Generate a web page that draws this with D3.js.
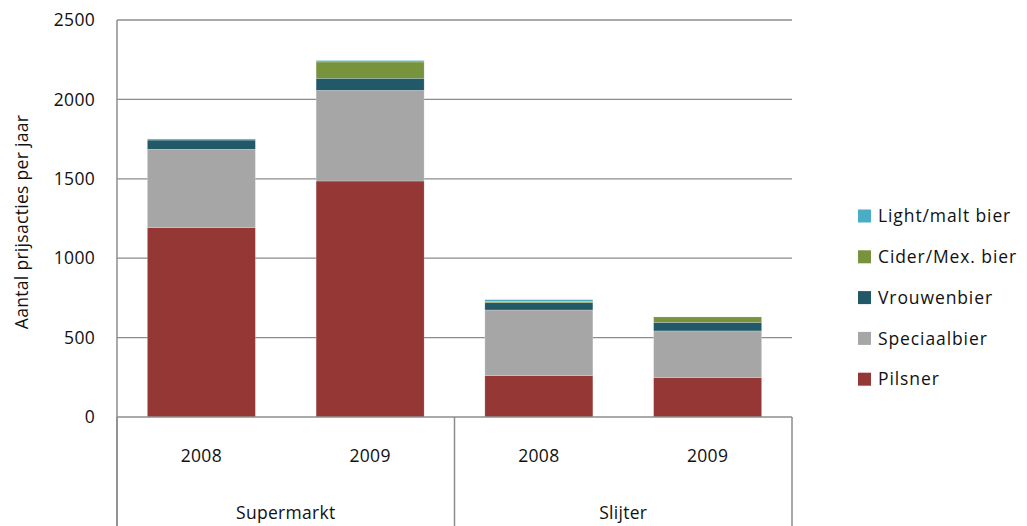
<!DOCTYPE html>
<html>
<head>
<meta charset="utf-8">
<script src="https://cdn.jsdelivr.net/npm/d3@7"></script>
<style>
  body { margin: 0; background: #fff; }
  svg { display: block; font-family: "Open Sans", "Noto Sans", sans-serif; }
  text { letter-spacing: 0.3px; fill: #111; }
  .legend text { letter-spacing: 0.9px; }
</style>
</head>
<body>
<svg id="chart" width="1027" height="526"></svg>
<script>
// Price transactions per year, by outlet and year
const groups = ["Supermarkt", "Slijter"];
const years = ["2008", "2009"];
const seriesNames = ["Pilsner", "Speciaalbier", "Vrouwenbier", "Cider/Mex. bier", "Light/malt bier"];
const seriesColors = ["#953735", "#a6a6a6", "#215968", "#77933c", "#4bacc6"];

// one value per bar: Supermarkt 2008, Supermarkt 2009, Slijter 2008, Slijter 2009
const pilsner      = [1192, 1486, 260, 248];
const speciaalbier = [494, 571, 414, 294];
const vrouwenbier  = [58, 76, 46, 54];
const ciderMex     = [0, 103, 8, 34];
const lightMalt    = [7, 9, 11, 0];

const yTicks = [0, 500, 1000, 1500, 2000, 2500];
const yTitle = "Aantal prijsacties per jaar";

const rows = [];
groups.forEach((g, gi) => years.forEach((yr, yi) => {
  const i = gi * years.length + yi;
  rows.push({
    key: g + "|" + yr, group: g, year: yr,
    "Pilsner": pilsner[i],
    "Speciaalbier": speciaalbier[i],
    "Vrouwenbier": vrouwenbier[i],
    "Cider/Mex. bier": ciderMex[i],
    "Light/malt bier": lightMalt[i]
  });
}));

const FS = 17.5;
const svg = d3.select("#chart");
const plot = { left: 117, right: 792, top: 20, bottom: 417, base: 526 };

const x = d3.scaleBand().domain(rows.map(d => d.key)).range([plot.left, plot.right])
  .paddingInner(0.36).paddingOuter(0.18);
const y = d3.scaleLinear().domain([0, 2500]).range([plot.bottom, plot.top]);
const color = d3.scaleOrdinal().domain(seriesNames).range(seriesColors);

// horizontal gridlines
svg.append("g").selectAll("line").data(yTicks.filter(t => t > 0)).join("line")
  .attr("x1", plot.left).attr("x2", plot.right)
  .attr("y1", d => y(d)).attr("y2", d => y(d))
  .attr("stroke", "#8c8c8c").attr("stroke-width", 1.3);

// y-axis
const yAxis = d3.axisLeft(y).tickValues(yTicks).tickFormat(d3.format("d"))
  .tickSize(0).tickPadding(22);
const ya = svg.append("g").attr("transform", `translate(${plot.left},0)`).call(yAxis);
ya.attr("font-size", null).attr("font-family", null);
ya.select(".domain").remove();
ya.selectAll("text").attr("font-size", FS).attr("fill", "#111");
svg.append("line").attr("x1", plot.left).attr("x2", plot.left)
  .attr("y1", plot.top).attr("y2", plot.base)
  .attr("stroke", "#8c8c8c").attr("stroke-width", 1.5);

// stacked bars
const stacked = d3.stack().keys(seriesNames)(rows);
svg.append("g").selectAll("g").data(stacked).join("g")
  .attr("fill", d => color(d.key))
  .selectAll("rect").data(d => d).join("rect")
  .attr("x", d => x(d.data.key))
  .attr("width", x.bandwidth())
  .attr("y", d => y(d[1]))
  .attr("height", d => y(d[0]) - y(d[1]))
  .attr("stroke", d => (d[1] - d[0]) > 0 ? "rgba(255,255,255,0.35)" : "none")
  .attr("stroke-width", 0.6);

// x-axis baseline and group separators
svg.append("line").attr("x1", plot.left).attr("x2", plot.right)
  .attr("y1", plot.bottom).attr("y2", plot.bottom)
  .attr("stroke", "#8c8c8c").attr("stroke-width", 1.5);
const groupWidth = (plot.right - plot.left) / groups.length;
const sepX = d3.range(groups.length + 1).map(i => plot.left + i * groupWidth);
svg.append("g").selectAll("line").data(sepX).join("line")
  .attr("x1", d => d).attr("x2", d => d).attr("y1", plot.bottom).attr("y2", plot.base)
  .attr("stroke", "#8c8c8c").attr("stroke-width", 1.5);

// year labels
svg.append("g").selectAll("text").data(rows).join("text")
  .attr("x", d => x(d.key) + x.bandwidth() / 2)
  .attr("y", 462)
  .attr("text-anchor", "middle").attr("font-size", FS)
  .text(d => d.year);

// group labels
svg.append("g").selectAll("text").data(groups).join("text")
  .attr("x", (d, i) => plot.left + (i + 0.5) * groupWidth)
  .attr("y", 519)
  .attr("text-anchor", "middle").attr("font-size", FS)
  .text(d => d);

// y-axis title
svg.append("text")
  .attr("transform", "translate(28,222) rotate(-90)")
  .attr("text-anchor", "middle").attr("font-size", FS)
  .text(yTitle);

// legend, top series first
const legendItems = seriesNames.slice().reverse();
const lg = svg.append("g").attr("class", "legend").selectAll("g").data(legendItems).join("g")
  .attr("transform", (d, i) => `translate(858,${216 + i * 40.8})`);
lg.append("rect").attr("x", 0).attr("y", -6.5).attr("width", 13).attr("height", 13)
  .attr("fill", d => color(d));
lg.append("text").attr("x", 20).attr("y", 0).attr("dy", "0.35em")
  .attr("font-size", FS).text(d => d);
</script>
</body>
</html>
